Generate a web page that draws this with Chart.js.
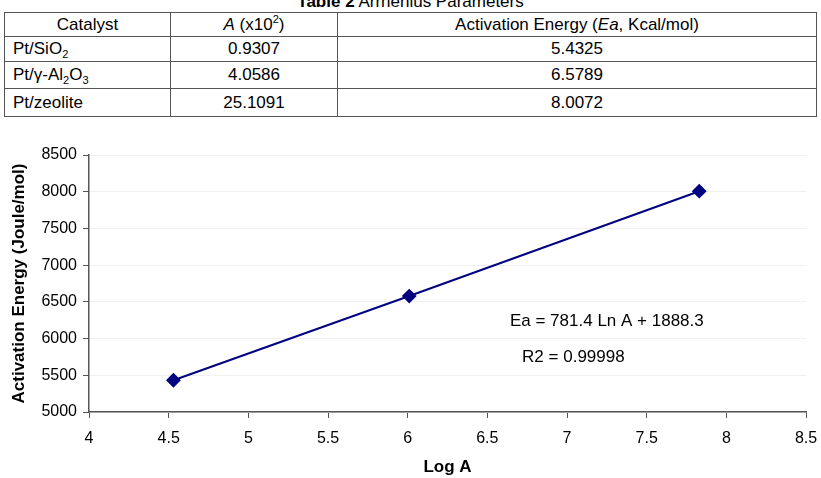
<!DOCTYPE html>
<html>
<head>
<meta charset="utf-8">
<script src="https://cdn.jsdelivr.net/npm/chart.js@4.4.0/dist/chart.umd.min.js"></script>
<style>
  body {
    margin: 0;
    width: 821px;
    height: 478px;
    background: #fff;
    overflow: hidden;
    position: relative;
    font-family: "Liberation Sans", Arial, sans-serif;
  }
  #title {
    position: absolute;
    left: 0;
    width: 821px;
    top: -8px;
    text-align: center;
    font-size: 17px;
  }
  table {
    position: absolute;
    left: 4px;
    top: 12px;
    width: 813px;
    border-collapse: collapse;
    font-size: 17px;
  }
  td {
    border: 1.5px solid #555;
    padding: 0 0 0 8px;
    line-height: 20px;
  }
  td.c { text-align: center; padding: 0; }
  sub, sup { font-size: 11px; line-height: 0; }
  #wrap {
    position: absolute;
    left: 0;
    top: 120px;
    width: 821px;
    height: 358px;
  }
</style>
</head>
<body>
<div id="title"><b>Table 2</b> Arrhenius Parameters</div>
<table>
  <tr style="height:24px"><td class="c" style="width:165px">Catalyst</td><td class="c" style="width:166px"><i>A</i> (x10<sup>2</sup>)</td><td class="c">Activation Energy (<i>Ea</i>, Kcal/mol)</td></tr>
  <tr style="height:25px"><td>Pt/SiO<sub>2</sub></td><td class="c">0.9307</td><td class="c">5.4325</td></tr>
  <tr style="height:27px"><td>Pt/&gamma;-Al<sub>2</sub>O<sub>3</sub></td><td class="c">4.0586</td><td class="c">6.5789</td></tr>
  <tr style="height:28px"><td>Pt/zeolite</td><td class="c">25.1091</td><td class="c">8.0072</td></tr>
</table>
<div id="wrap"><canvas id="myChart"></canvas></div>
<script>
var logA = [4.53, 6.01, 7.83];
var energy = [5432.5, 6578.9, 8007.2];
var xTicks = [4, 4.5, 5, 5.5, 6, 6.5, 7, 7.5, 8, 8.5];
var yTicks = [5000, 5500, 6000, 6500, 7000, 7500, 8000, 8500];
var fitText = "Ea = 781.4 Ln A + 1888.3";
var r2Text = "R2 = 0.99998";

function makePoints() {

  var points = [];

  for (var i = 0; i < logA.length; i++) {

    points.push({ x: logA[i], y: energy[i] });
  }

  return points;
}

var labelPlugin = {
  id: "fitLabels",
  afterDatasetsDraw: function(chart) {

    var ctx = chart.ctx;
    var x = chart.scales.x;
    var y = chart.scales.y;

    ctx.save();
    ctx.fillStyle = "#000";
    ctx.font = "17px 'Liberation Sans', Arial, sans-serif";
    ctx.textAlign = "center";
    ctx.textBaseline = "middle";
    ctx.fillText(fitText, x.getPixelForValue(7.25), y.getPixelForValue(6240));
    ctx.fillText(r2Text, x.getPixelForValue(7.04), y.getPixelForValue(5750));
    ctx.restore();
  }
};

var tickFont = { family: "'Liberation Sans', Arial, sans-serif", size: 16 };
var titleFont = { family: "'Liberation Sans', Arial, sans-serif", size: 17, weight: "bold" };

function plainLabel(value) {

  return String(value);
}

var ctx = document.getElementById("myChart");
var myChart = new Chart(ctx, {
  type: "scatter",
  data: {
    datasets: [
      {
        data: makePoints(),
        showLine: true,
        borderColor: "#000080",
        backgroundColor: "#000080",
        borderWidth: 2,
        pointStyle: "rectRot",
        pointRadius: 6,
        pointHoverRadius: 6
      }
    ]
  },
  options: {
    responsive: true,
    maintainAspectRatio: false,
    animation: false,
    layout: { padding: { top: 35, right: 15, left: 0, bottom: 0 } },
    plugins: {
      legend: { display: false },
      tooltip: { enabled: false }
    },
    scales: {
      x: {
        type: "linear",
        min: 4,
        max: 8.5,
        afterBuildTicks: function(axis) {
          axis.ticks = xTicks.map(function(v) { return { value: v }; });
        },
        afterFit: function(axis) {
          axis.height = 66;
          axis.paddingRight = 0;
          axis.paddingLeft = 0;
        },
        grid: { drawOnChartArea: false, tickLength: 6, tickColor: "#555" },
        border: { color: "#555", width: 1.5 },
        ticks: { color: "#000", font: tickFont, padding: 11, maxRotation: 0, callback: plainLabel },
        title: { display: true, text: "Log A", color: "#000", font: titleFont, padding: { top: 7, bottom: 0 } }
      },
      y: {
        min: 5000,
        max: 8500,
        afterBuildTicks: function(axis) {
          axis.ticks = yTicks.map(function(v) { return { value: v }; });
        },
        afterFit: function(axis) { axis.width = 89; },
        grid: { color: "#f0f0f0", tickLength: 6, tickColor: "#555" },
        border: { color: "#555", width: 1.5 },
        ticks: { color: "#000", font: tickFont, padding: 6, callback: plainLabel },
        title: { display: true, text: "Activation Energy (Joule/mol)", color: "#000", font: titleFont, padding: { top: 9, bottom: 0 } }
      }
    }
  },
  plugins: [labelPlugin]
});
</script>
</body>
</html>
